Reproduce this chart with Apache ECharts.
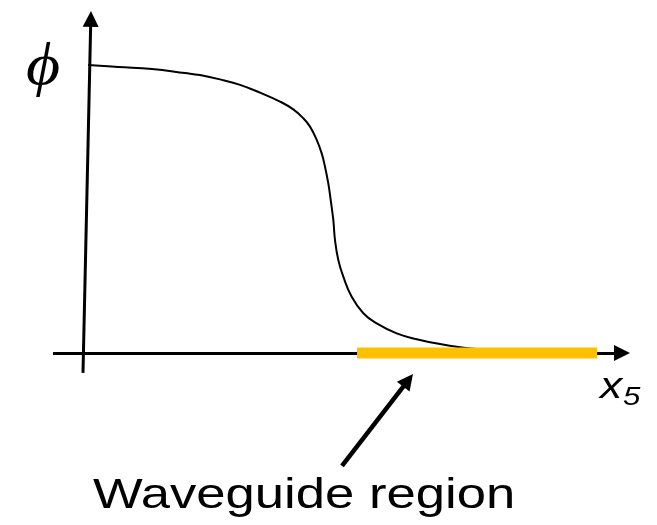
<!DOCTYPE html>
<html>
<head>
<meta charset="utf-8">
<style>
  html, body { margin: 0; padding: 0; background: #fff; }
  #chart { width: 657px; height: 525px; }
</style>
<script src="https://cdn.jsdelivr.net/npm/echarts@6/dist/echarts.min.js"></script>
</head>
<body>
<div id="chart"></div>
<script>
// Field profile phi(x5): flat plateau, steep drop, tail decaying into the waveguide
const curveX = [0.03, 0.33, 0.67, 1.00, 1.15, 1.35, 1.55, 1.75, 1.95, 2.083, 2.183, 2.25, 2.317, 2.367, 2.40, 2.433, 2.457, 2.483, 2.50, 2.533, 2.583, 2.667, 2.783, 2.917, 3.117, 3.317, 3.55, 3.75, 3.917];
const curveY = [1.000, 0.993, 0.986, 0.972, 0.965, 0.950, 0.931, 0.904, 0.873, 0.846, 0.815, 0.786, 0.740, 0.693, 0.647, 0.589, 0.531, 0.462, 0.392, 0.323, 0.265, 0.195, 0.138, 0.103, 0.068, 0.048, 0.031, 0.020, 0.014];

// Axis lines (start, arrow end) in data units
const xAxisLine = [[-0.32, 0], [5.37, 0]];
const yAxisLine = [[-0.02, -0.069], [0.058, 1.16]];

// Extent of the waveguide region along x5
const waveguideSpan = [2.72, 5.12];

// Pointer from the caption to the region
const pointer = [[2.57, -0.392], [3.231, -0.095]];

// Texts
const yLabel = 'ϕ';
const xLabel = 'x';
const xSub = '5';
const regionLabel = 'Waveguide region';

const chart = echarts.init(document.getElementById('chart'), null, { renderer: 'canvas' });

const arrowLine = (pts) => [{ coord: pts[0], symbol: 'none' }, { coord: pts[1], symbol: 'triangle' }];

chart.setOption({
  animation: false,
  backgroundColor: '#fff',
  grid: { left: 0, right: 0, top: 0, bottom: 0, containLabel: false },
  xAxis: { type: 'value', min: -0.85, max: 5.72, show: false },
  yAxis: { type: 'value', min: -0.5972, max: 1.2257, show: false },
  series: [
    {
      name: 'axes',
      type: 'line',
      data: [],
      clip: false,
      z: 1,
      markLine: {
        z: 1,
        silent: true,
        animation: false,
        symbolSize: 16,
        label: { show: false },
        emphasis: { disabled: true },
        lineStyle: { type: 'solid', color: '#000', width: 3 },
        data: [arrowLine(xAxisLine), arrowLine(yAxisLine)]
      }
    },
    {
      name: 'phi',
      type: 'line',
      data: curveX.map((x, i) => [x, curveY[i]]),
      smooth: 0.45,
      showSymbol: false,
      symbol: 'none',
      clip: false,
      z: 2,
      lineStyle: { color: '#000', width: 2 },
      emphasis: { disabled: true }
    },
    {
      name: 'waveguide',
      type: 'line',
      data: [[waveguideSpan[0], 0], [waveguideSpan[1], 0]],
      symbol: 'none',
      clip: false,
      z: 10,
      lineStyle: { color: '#FFC000', width: 11, cap: 'butt' },
      emphasis: { disabled: true },
      markLine: {
        z: 10,
        silent: true,
        animation: false,
        symbolSize: 16,
        label: { show: false },
        emphasis: { disabled: true },
        lineStyle: { type: 'solid', color: '#000', width: 4.5 },
        data: [arrowLine(pointer)]
      }
    }
  ],
  graphic: [
    {
      type: 'text', x: 26, y: 68, scaleX: 1.1,
      style: { text: yLabel, font: 'italic 60px "Liberation Serif", "DejaVu Serif", serif', fill: '#000', textAlign: 'left', textVerticalAlign: 'middle' }
    },
    {
      type: 'text', x: 600, y: 388, scaleX: 1.2,
      style: { text: xLabel, font: 'italic 37px "Liberation Sans", Arial, sans-serif', fill: '#000', textAlign: 'left', textVerticalAlign: 'middle' }
    },
    {
      type: 'text', x: 623, y: 398, scaleX: 1.2,
      style: { text: xSub, font: 'italic 26px "Liberation Sans", Arial, sans-serif', fill: '#000', textAlign: 'left', textVerticalAlign: 'middle' }
    },
    {
      type: 'text', x: 93, y: 496, scaleX: 1.253,
      style: { text: regionLabel, font: '42px "Liberation Sans", Arial, sans-serif', fill: '#000', textAlign: 'left', textVerticalAlign: 'middle' }
    }
  ]
});
</script>
</body>
</html>
